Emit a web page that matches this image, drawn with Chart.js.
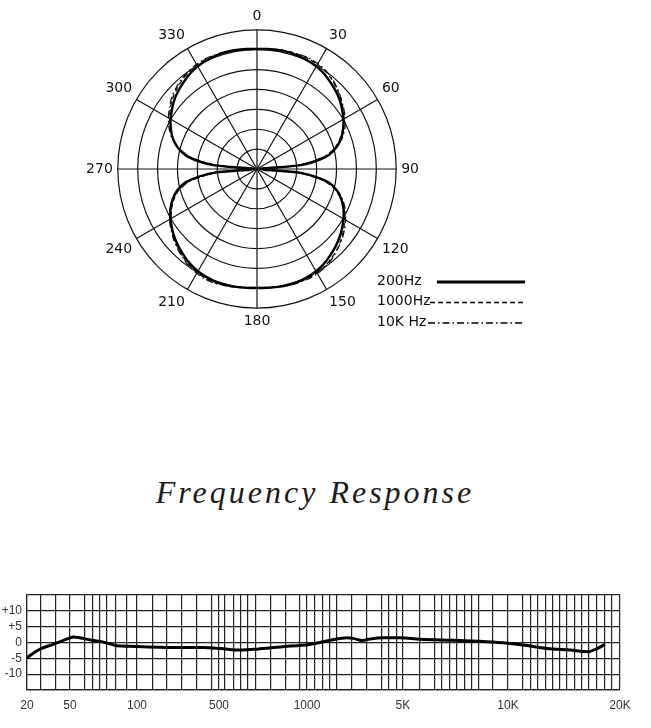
<!DOCTYPE html>
<html>
<head>
<meta charset="utf-8">
<title>Polar Pattern and Frequency Response</title>
<script src="https://cdn.jsdelivr.net/npm/chart.js@4.4.1/dist/chart.umd.min.js"></script>
<style>
  html, body { margin: 0; padding: 0; background: #fff; }
  body { width: 651px; height: 728px; position: relative; overflow: hidden; }
  .box { position: absolute; left: 0; }
  #polarBox { top: 0; width: 651px; height: 340px; }
  #freqBox { top: 580px; width: 651px; height: 148px; }
  #title {
    position: absolute; top: 472px; left: 0; width: 630px; text-align: center;
    font: italic 32px/40px "Liberation Serif", "Times New Roman", serif;
    letter-spacing: 3px; color: #1c1c1c;
  }
</style>
</head>
<body>
<div class="box" id="polarBox"><canvas id="polarChart"></canvas></div>
<div id="title">Frequency Response</div>
<div class="box" id="freqBox"><canvas id="freqChart"></canvas></div>
<script>
// ---- polar pattern (one reading every 5 degrees, radius in 5-unit rings) ----
const angleLabels = ['0','5','10','15','20','25','30','35','40','45','50','55',
  '60','65','70','75','80','85','90','95','100','105','110','115',
  '120','125','130','135','140','145','150','155','160','165','170','175',
  '180','185','190','195','200','205','210','215','220','225','230','235',
  '240','245','250','255','260','265','270','275','280','285','290','295',
  '300','305','310','315','320','325','330','335','340','345','350','355'];

const pattern200 = [30.2, 30.3, 30.4, 30.4, 30.3, 30.1, 29.8, 29.3, 28.6, 27.9, 27.1, 26.1,
  25.1, 23.9, 22.5, 20.6, 17.6, 11.0, 0.8, 11.0, 17.8, 20.8, 22.6, 24.0,
  25.1, 26.1, 27.0, 27.8, 28.5, 29.2, 29.7, 30.0, 30.2, 30.2, 30.1, 30.0,
  29.9, 30.0, 30.1, 30.2, 30.2, 30.0, 29.7, 29.2, 28.5, 27.8, 27.0, 26.1,
  25.1, 24.0, 22.6, 20.8, 17.8, 11.0, 0.8, 11.0, 17.6, 20.6, 22.5, 23.9,
  25.1, 26.1, 27.1, 27.9, 28.6, 29.3, 29.8, 30.1, 30.3, 30.4, 30.4, 30.3];

const pattern1k = [30.2, 30.3, 30.5, 30.6, 30.6, 30.6, 30.4, 30.0, 29.3, 28.4, 27.5, 26.4,
  25.2, 23.8, 22.2, 20.2, 17.0, 10.5, 0.8, 10.6, 17.2, 20.5, 22.5, 24.1,
  25.4, 26.6, 27.6, 28.5, 29.2, 29.8, 30.2, 30.3, 30.3, 30.2, 30.1, 30.0,
  29.9, 30.0, 30.2, 30.4, 30.5, 30.4, 30.1, 29.6, 28.9, 28.1, 27.2, 26.2,
  25.0, 23.7, 22.2, 20.3, 17.2, 10.5, 0.8, 10.6, 17.2, 20.4, 22.5, 24.0,
  25.4, 26.6, 27.7, 28.5, 29.2, 29.8, 30.2, 30.4, 30.5, 30.5, 30.4, 30.3];

const pattern10k = [30.0, 30.2, 30.4, 30.5, 30.7, 30.8, 30.6, 30.2, 29.5, 28.6, 27.6, 26.6,
  25.6, 24.4, 22.8, 20.5, 16.8, 10.0, 0.8, 10.2, 17.0, 20.9, 23.0, 24.5,
  25.7, 26.8, 27.8, 28.6, 29.4, 30.0, 30.4, 30.5, 30.4, 30.3, 30.1, 29.9,
  29.8, 29.9, 30.1, 30.3, 30.6, 30.6, 30.3, 29.8, 29.1, 28.3, 27.4, 26.4,
  25.4, 24.1, 22.7, 20.4, 16.9, 10.2, 0.8, 10.0, 16.8, 20.4, 22.8, 24.4,
  25.7, 26.9, 28.0, 28.8, 29.5, 30.0, 30.4, 30.6, 30.6, 30.5, 30.3, 30.1];

// ---- frequency response ----
const freqHz = [20, 26, 35, 48, 52, 55, 63, 70, 81, 92, 210, 370, 505, 590, 675, 810,
  1040, 1240, 1470, 1950, 2170, 2520, 2800, 3570, 4750, 5600, 6950, 8260, 9680,
  10970, 12720, 14680, 16420, 17350, 18230];
const levelDb = [-4.8, -2.2, -0.6, 1.2, 1.7, 1.5, 0.7, 0.2, -1.0, -1.2, -1.6, -1.6, -1.9, -2.4, -2.1, -1.4,
  -0.6, 0, 0.7, 1.5, 1.3, 0.6, 1.0, 1.5, 1.5, 1.0, 0.7, 0.4, -0.1,
  -0.8, -1.9, -2.4, -2.9, -1.9, -0.6];

// horizontal rulings in dB
const dbTicks = [-15, -10, -5, 0, 5, 10, 15];

// labelled frequencies on the chart paper and where they sit across the width
const labelFreqs = [20, 50, 100, 500, 1000, 5000, 10000, 20000];
const labelNames = ['20', '50', '100', '500', '1000', '5K', '10K', '20K'];
const labelSpots = [0, 0.0725, 0.1855, 0.3238, 0.4722, 0.634, 0.8111, 1];

// vertical rulings of the printed chart paper
const gridFreqs = [20, 27, 37, 50, 58, 63, 68, 73, 80, 90, 100, 137, 180, 242, 325, 436,
  500, 524, 559, 595, 628, 669, 753, 848, 946, 1000, 1144, 1307, 1470, 1653, 2126,
  2734, 3515, 3952, 4522, 5000, 5594, 6175, 6468, 6818, 7142, 7527, 7885, 8259, 9057,
  10000, 10973, 11530, 12042, 12650, 13210, 13797, 14409, 15138, 15812, 16510, 17350,
  18230, 19030, 20000];

// piecewise log mapping of the paper
function freqToDecimal(f) {
  if (f <= labelFreqs[0]) return 0;
  for (let i = 1; i < labelFreqs.length; i++) {
    if (f <= labelFreqs[i]) {
      const t = Math.log(f / labelFreqs[i - 1]) / Math.log(labelFreqs[i] / labelFreqs[i - 1]);
      return labelSpots[i - 1] + t * (labelSpots[i] - labelSpots[i - 1]);
    }
  }
  return 1;
}
function decimalToFreq(d) {
  for (let i = 1; i < labelSpots.length; i++) {
    if (d <= labelSpots[i]) {
      const t = (d - labelSpots[i - 1]) / (labelSpots[i] - labelSpots[i - 1]);
      return labelFreqs[i - 1] * Math.pow(labelFreqs[i] / labelFreqs[i - 1], t);
    }
  }
  return labelFreqs[labelFreqs.length - 1];
}

class PaperScale extends Chart.LinearScale {
  getPixelForValue(v) { return this.getPixelForDecimal(freqToDecimal(v)); }
  getValueForPixel(p) { return decimalToFreq(this.getDecimalForPixel(p)); }
}
PaperScale.id = 'paper';
PaperScale.defaults = Chart.LinearScale.defaults;
Chart.register(PaperScale);

// legend drawn beside the polar plot, line sample after the text
const legendStarts = [437, 430, 428];
const polarLegend = {
  id: 'polarLegend',
  afterDatasetsDraw(chart) {
    const ctx = chart.ctx;
    ctx.save();
    ctx.font = '14px "DejaVu Sans", sans-serif';
    ctx.fillStyle = '#111';
    ctx.textBaseline = 'middle';
    chart.data.datasets.forEach((ds, i) => {
      const y = 281 + i * 20.5;
      ctx.fillText(ds.label, 377, y);
      ctx.beginPath();
      ctx.setLineDash(ds.borderDash);
      ctx.lineWidth = i === 0 ? 3 : 1.5;
      ctx.strokeStyle = '#000';
      ctx.moveTo(legendStarts[i], y + 1);
      ctx.lineTo(525, y + 1);
      ctx.stroke();
    });
    ctx.restore();
  }
};

new Chart(document.getElementById('polarChart'), {
  type: 'radar',
  data: {
    labels: angleLabels,
    datasets: [
      { label: '200Hz', data: pattern200, borderColor: '#000', borderWidth: 2.4, borderDash: [], fill: false, backgroundColor: 'transparent' },
      { label: '1000Hz', data: pattern1k, borderColor: '#111', borderWidth: 1.3, borderDash: [5, 3], fill: false, backgroundColor: 'transparent' },
      { label: '10K Hz', data: pattern10k, borderColor: '#111', borderWidth: 1.3, borderDash: [7, 3, 1.5, 3], fill: false, backgroundColor: 'transparent' }
    ]
  },
  options: {
    responsive: true,
    maintainAspectRatio: false,
    animation: false,
    layout: { padding: { top: 9, bottom: 9, left: 0, right: 137 } },
    elements: { point: { radius: 0 }, line: { tension: 0.25 } },
    plugins: { legend: { display: false }, tooltip: { enabled: false } },
    scales: {
      r: {
        min: 0,
        max: 35,
        ticks: { display: false, stepSize: 5 },
        grid: { circular: true, color: '#111', lineWidth: 1.2 },
        angleLines: { color: '#111', lineWidth: ctx => ctx.index % 6 === 0 ? 1.2 : 0 },
        pointLabels: {
          padding: 5,
          color: '#111',
          font: { family: '"DejaVu Sans", sans-serif', size: 14 },
          callback: (label, i) => i % 6 === 0 ? label : ''
        }
      }
    }
  },
  plugins: [polarLegend]
});

new Chart(document.getElementById('freqChart'), {
  type: 'line',
  data: {
    datasets: [{
      data: freqHz.map((f, i) => ({ x: f, y: levelDb[i] })),
      borderColor: '#000',
      borderWidth: 3,
      pointRadius: 0,
      cubicInterpolationMode: 'monotone',
      fill: false
    }]
  },
  options: {
    responsive: true,
    maintainAspectRatio: false,
    animation: false,
    layout: { padding: { top: 15, right: 31, left: 0, bottom: 0 } },
    plugins: { legend: { display: false }, tooltip: { enabled: false } },
    scales: {
      x: {
        type: 'paper',
        min: 20,
        max: 20000,
        afterBuildTicks: s => { s.ticks = gridFreqs.map(v => ({ value: v })); },
        afterFit: s => { s.height = 38; },
        grid: { color: '#222', lineWidth: 1.2, drawTicks: false },
        border: { color: '#222', width: 1.2 },
        ticks: {
          autoSkip: false, maxRotation: 0, padding: 8, color: '#333',
          font: { family: '"Liberation Sans", Arial, sans-serif', size: 12 },
          callback: v => { const k = labelFreqs.indexOf(v); return k < 0 ? '' : labelNames[k]; }
        }
      },
      y: {
        min: -15,
        max: 15,
        afterBuildTicks: s => { s.ticks = dbTicks.map(v => ({ value: v })); },
        afterFit: s => { s.width = 27; },
        grid: { color: '#222', lineWidth: 1.2, drawTicks: false },
        border: { color: '#222', width: 1.2 },
        ticks: {
          autoSkip: false, padding: 5, color: '#333',
          font: { family: '"Liberation Sans", Arial, sans-serif', size: 12 },
          callback: v => (v === 15 || v === -15) ? '' : (v > 0 ? '+' + v : String(v))
        }
      }
    }
  }
});
</script>
</body>
</html>
